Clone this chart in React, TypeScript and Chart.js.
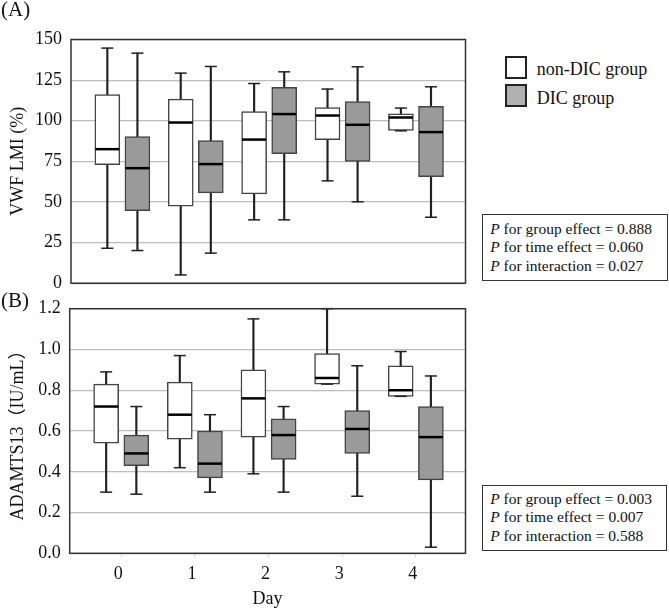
import React, { useEffect, useRef } from 'react';
import { Chart, registerables } from 'chart.js';

Chart.register(...registerables);

const FONT = "'Liberation Serif', 'Times New Roman', 'Noto Sans CJK JP', serif";

// ---- categories ----
const dayValues = [0, 1, 2, 3, 4];
const dayLabels = ['0', '1', '2', '3', '4'];
const groupLabels = ['non-DIC group', 'DIC group'];

// ---- Panel A: VWF LMI (%) ----
const vwfNonMin = [21.5, 5.1, 39.0, 63.0, 93.8];
const vwfNonQ1 = [73.0, 47.4, 55.0, 88.4, 94.0];
const vwfNonMed = [82.5, 98.9, 88.4, 103.2, 102.0];
const vwfNonQ3 = [116.1, 113.3, 105.7, 108.1, 104.3];
const vwfNonMax = [144.7, 129.3, 122.9, 119.5, 107.8];

const vwfDicMin = [20.1, 18.5, 39.0, 50.1, 40.6];
const vwfDicQ1 = [44.7, 55.6, 79.8, 74.9, 65.5];
const vwfDicMed = [70.8, 73.3, 104.1, 97.5, 93.0];
const vwfDicQ3 = [90.3, 87.8, 120.5, 111.8, 108.8];
const vwfDicMax = [141.6, 133.4, 130.1, 133.2, 120.9];

const vwfTicks = [0, 25, 50, 75, 100, 125, 150];

// ---- Panel B: ADAMTS13 (IU/mL) ----
const adNonMin = [0.30, 0.42, 0.39, 0.83, 0.77];
const adNonQ1 = [0.54, 0.56, 0.57, 0.83, 0.77];
const adNonMed = [0.72, 0.68, 0.76, 0.86, 0.80];
const adNonQ3 = [0.83, 0.84, 0.90, 0.98, 0.92];
const adNonMax = [0.89, 0.97, 1.15, 1.20, 0.99];

const adDicMin = [0.29, 0.30, 0.30, 0.28, 0.03];
const adDicQ1 = [0.43, 0.37, 0.46, 0.49, 0.36];
const adDicMed = [0.49, 0.44, 0.58, 0.61, 0.57];
const adDicQ3 = [0.58, 0.60, 0.66, 0.70, 0.72];
const adDicMax = [0.72, 0.68, 0.72, 0.92, 0.87];

const adTicks = [0, 0.2, 0.4, 0.6, 0.8, 1.0, 1.2];

const pTextA = ['0.888', '0.060', '0.027'];
const pTextB = ['0.003', '0.007', '0.588'];
const pNames = ['group effect', 'time effect', 'interaction'];

const GROUP_OFFSET = 0.205;
const X_MIN = -0.7;
const X_MAX = 4.675;

type BoxSet = { min: number[]; q1: number[]; med: number[]; q3: number[]; max: number[] };

function buildDatasets(non: BoxSet, dic: BoxSet) {
  const groups = [
    { s: non, off: -GROUP_OFFSET, fill: '#ffffff', label: groupLabels[0] },
    { s: dic, off: GROUP_OFFSET, fill: '#9a9a9a', label: groupLabels[1] },
  ];
  const ds: any[] = [];
  groups.forEach((g) => {
    ds.push({
      type: 'bar',
      label: g.label + ' whisker',
      data: dayValues.map((d, i) => ({ x: d + g.off, y: [g.s.min[i], g.s.max[i]] })),
      backgroundColor: '#222222',
      borderWidth: 0,
      barThickness: 1.5,
      grouped: false,
      order: 3,
    });
    ds.push({
      type: 'bar',
      label: g.label,
      data: dayValues.map((d, i) => ({ x: d + g.off, y: [g.s.q1[i], g.s.q3[i]] })),
      backgroundColor: g.fill,
      borderColor: '#444444',
      borderWidth: 1.5,
      borderSkipped: false,
      barThickness: 25,
      grouped: false,
      order: 2,
    });
    ds.push({
      type: 'line',
      label: g.label + ' caps',
      showLine: false,
      data: dayValues.flatMap((d, i) => [
        { x: d + g.off, y: g.s.min[i] },
        { x: d + g.off, y: g.s.max[i] },
      ]),
      pointStyle: 'line',
      pointRadius: 6,
      pointHoverRadius: 6,
      pointBorderWidth: 1.5,
      pointBorderColor: '#222222',
      order: 1,
      clip: false,
    });
    ds.push({
      type: 'line',
      label: g.label + ' median',
      showLine: false,
      data: dayValues.map((d, i) => ({ x: d + g.off, y: g.s.med[i] })),
      pointStyle: 'line',
      pointRadius: 12,
      pointHoverRadius: 12,
      pointBorderWidth: 2.5,
      pointBorderColor: '#000000',
      order: 0,
      clip: false,
    });
  });
  return ds;
}

const framePlugin = {
  id: 'frame',
  afterDatasetsDraw(chart: any) {
    const { ctx, chartArea } = chart;
    const { left, top, right, bottom } = chartArea;
    ctx.save();
    ctx.strokeStyle = '#333333';
    ctx.lineWidth = 1.5;
    ctx.strokeRect(left, top, right - left, bottom - top);
    ctx.restore();
  },
};

function makeConfig(opts: {
  datasets: any[];
  yTicks: number[];
  fmt: (v: number) => string;
  yTitle: string;
  yWidth: number;
  padding: any;
  showX: boolean;
  xHeight?: number;
}) {
  const yMin = opts.yTicks[0];
  const yMax = opts.yTicks[opts.yTicks.length - 1];
  return {
    type: 'bar',
    data: { datasets: opts.datasets },
    plugins: [framePlugin],
    options: {
      responsive: false,
      animation: false,
      events: [],
      layout: { padding: opts.padding },
      plugins: { legend: { display: false }, tooltip: { enabled: false }, title: { display: false } },
      scales: {
        x: {
          type: 'linear',
          display: opts.showX,
          min: X_MIN,
          max: X_MAX,
          offset: false,
          afterBuildTicks: (s: any) => {
            s.ticks = dayValues.map((v) => ({ value: v }));
          },
          ticks: {
            font: { family: FONT, size: 18 },
            color: '#111111',
            padding: 6,
            labelOffset: -3,
            maxRotation: 0,
            autoSkip: false,
            callback: (v: number) => dayLabels[dayValues.indexOf(v)] ?? '',
          },
          grid: { offset: false, drawOnChartArea: false, drawTicks: true, tickLength: 4, color: '#d8d8d8' },
          border: { display: false },
          title: {
            display: opts.showX,
            text: 'Day',
            font: { family: FONT, size: 18 },
            color: '#111111',
            padding: { top: 0, bottom: 0 },
          },
          afterFit: (s: any) => {
            if (opts.xHeight) s.height = opts.xHeight;
          },
        },
        y: {
          type: 'linear',
          min: yMin,
          max: yMax,
          afterBuildTicks: (s: any) => {
            s.ticks = opts.yTicks.map((v) => ({ value: v }));
          },
          ticks: {
            font: { family: FONT, size: 18 },
            color: '#111111',
            padding: 9,
            callback: (v: number) => opts.fmt(v),
          },
          grid: { color: '#bdbdbd', lineWidth: 1.2, drawTicks: false },
          border: { display: false },
          title: {
            display: true,
            text: opts.yTitle,
            font: { family: FONT, size: 18 },
            color: '#111111',
            padding: { top: 7, bottom: 0 },
          },
          afterFit: (s: any) => {
            s.width = opts.yWidth;
          },
        },
      },
    },
  } as any;
}

const serif: React.CSSProperties = { fontFamily: FONT, color: '#111', position: 'absolute', whiteSpace: 'nowrap' };

function PBox({ left, top, width, height, padTop, values }: any) {
  return (
    <div
      style={{
        position: 'absolute',
        left,
        top,
        width,
        height,
        boxSizing: 'border-box',
        border: '1.5px solid #333',
        paddingTop: padTop,
        paddingLeft: 7.2,
        fontFamily: FONT,
        fontSize: 15.5,
        lineHeight: '18.3px',
        color: '#111',
        whiteSpace: 'nowrap',
        background: '#fff',
      }}
    >
      {values.map((v: string, i: number) => (
        <div key={i}>
          <i>P</i> for {pNames[i]} = {v}
        </div>
      ))}
    </div>
  );
}

export default function App() {
  const refA = useRef<HTMLCanvasElement>(null);
  const refB = useRef<HTMLCanvasElement>(null);

  useEffect(() => {
    const chartA = new Chart(
      refA.current as HTMLCanvasElement,
      makeConfig({
        datasets: buildDatasets(
          { min: vwfNonMin, q1: vwfNonQ1, med: vwfNonMed, q3: vwfNonQ3, max: vwfNonMax },
          { min: vwfDicMin, q1: vwfDicQ1, med: vwfDicMed, q3: vwfDicQ3, max: vwfDicMax }
        ),
        yTicks: vwfTicks,
        fmt: (v) => String(Math.round(v)),
        yTitle: 'VWF LMI (%)',
        yWidth: 71,
        padding: { top: 39.5, right: 3.3, bottom: 0, left: 0 },
        showX: false,
      })
    );
    const chartB = new Chart(
      refB.current as HTMLCanvasElement,
      makeConfig({
        datasets: buildDatasets(
          { min: adNonMin, q1: adNonQ1, med: adNonMed, q3: adNonQ3, max: adNonMax },
          { min: adDicMin, q1: adDicQ1, med: adDicMed, q3: adDicQ3, max: adDicMax }
        ),
        yTicks: adTicks,
        fmt: (v) => v.toFixed(1),
        yTitle: 'ADAMTS13（IU/mL）',
        yWidth: 69.7,
        padding: { top: 23.7, right: 3.3, bottom: 0, left: 0 },
        showX: true,
        xHeight: 56.7,
      })
    );
    return () => {
      chartA.destroy();
      chartB.destroy();
    };
  }, []);

  return (
    <div style={{ position: 'fixed', left: 0, top: 0, width: 669, height: 610, background: '#fff', overflow: 'hidden' }}>
      <canvas ref={refA} width={480} height={303} style={{ position: 'absolute', left: 0, top: 0 }} />
      <canvas ref={refB} width={480} height={325} style={{ position: 'absolute', left: 0, top: 285 }} />
      <div style={{ ...serif, left: 1, top: -1.25, fontSize: 21, lineHeight: '21px' }}>(A)</div>
      <div style={{ ...serif, left: 1, top: 290.4, fontSize: 21, lineHeight: '21px' }}>(B)</div>

      <div style={{ position: 'absolute', left: 505, top: 56, width: 22, height: 23, boxSizing: 'border-box', border: '2.5px solid #222', background: '#ffffff' }} />
      <div style={{ position: 'absolute', left: 505, top: 84.3, width: 22, height: 23, boxSizing: 'border-box', border: '2.5px solid #222', background: '#b0b0b0' }} />
      <div style={{ ...serif, left: 536.7, top: 59.9, fontSize: 18, lineHeight: '18px' }}>{groupLabels[0]}</div>
      <div style={{ ...serif, left: 536.7, top: 88.9, fontSize: 18, lineHeight: '18px' }}>{groupLabels[1]}</div>

      <PBox left={482} top={214} width={186} height={67} padTop={5.1} values={pTextA} />
      <PBox left={482} top={485} width={184.5} height={66} padTop={4.1} values={pTextB} />
    </div>
  );
}
